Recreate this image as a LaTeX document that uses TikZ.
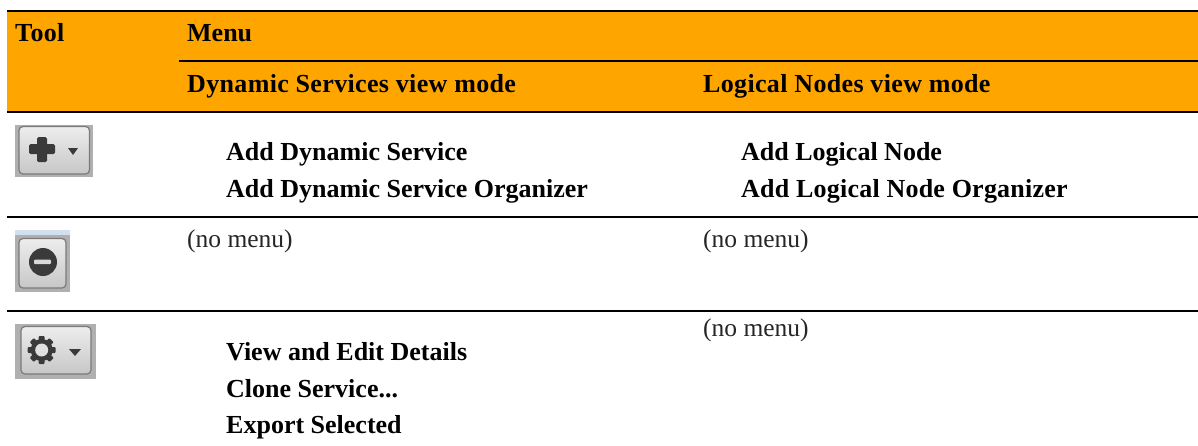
\documentclass[tikz,border=0pt]{standalone}
\usepackage{fontspec}
\setmainfont{Liberation Serif}
\definecolor{hdr}{HTML}{FFA500}
\definecolor{btnedge}{HTML}{7A7A7A}
\definecolor{btnout}{HTML}{B0B0B0}
\definecolor{glyph}{HTML}{3A3A3A}
\definecolor{tint}{HTML}{D2DFEF}
\tikzset{
 rulel/.style={line width=2pt,black},
 mi/.style={anchor=base west,inner sep=0pt,font=\fontsize{26}{30}\selectfont\bfseries},
 hd/.style={mi,font=\fontsize{26}{30}\selectfont\bfseries\addfontfeature{LetterSpace=1.3}},
 mis/.style={mi,font=\fontsize{26}{30}\selectfont\bfseries\addfontfeature{LetterSpace=0.9}},
 pl/.style={anchor=base west,inner sep=0pt,font=\fontsize{25.5}{30}\selectfont,text=black!85},
 btnbg/.style={fill=btnout,draw=none},
 btn/.style={rounded corners=4pt,draw=btnedge,line width=1.2pt,top color=white!93!black,bottom color=white!78!black},
 gl/.style={fill=glyph,draw=none}
}
\begin{document}
\begin{tikzpicture}[x=1pt,y=-1pt]
\useasboundingbox (0,0) rectangle (1198,445);
\fill[hdr] (7,10) rectangle (1198,112);
\draw[rulel] (7,10.7) -- (1198,10.7);
\draw[rulel] (179,61.3) -- (1198,61.3);
\draw[rulel] (7,111.7) -- (1198,111.7);
\draw[rulel] (7,217) -- (1198,217);
\draw[rulel] (7,311) -- (1198,311);
\node[hd] (tool) at (15,41) {Tool};
\node[mi] (menu) at (187,41) {Menu};
\node[hd] (dsv) at (187,92) {Dynamic Services view mode};
\node[hd] (lnv) at (703,92) {Logical Nodes view mode};
\node[mi] (a1) at (226,160.5) {Add Dynamic Service};
\node[mi] (a2) at (226,197) {Add Dynamic Service Organizer};
\node[mi] (b1) at (741,160.5) {Add Logical Node};
\node[mis] (b2) at (741,197) {Add Logical Node Organizer};
\node[pl] (n1) at (187,247) {(no menu)};
\node[pl] (n2) at (703,247) {(no menu)};
\node[pl] (n3) at (703,336.5) {(no menu)};
\node[mi] (c1) at (226,360) {View and Edit Details};
\node[mi] (c2) at (226,397) {Clone Service...};
\node[mi] (c3) at (226,433) {Export Selected};
% plus button
\fill[btnbg] (15,125) rectangle (93,177);
\draw[btn] (19,126.5) rectangle (89.5,174);
\fill[gl,rounded corners=1.5pt] (37,137) rectangle (47,162);
\fill[gl,rounded corners=1.5pt] (29,144) rectangle (55,154);
\fill[gl] (68,148) -- (78,148) -- (73,155) -- cycle;
% minus button
\fill[btnbg] (15,230) rectangle (70,292);
\fill[tint] (15,230) rectangle (70,235);
\draw[btn] (19,238.5) rectangle (66,288);
\fill[gl] (43,262) circle (14);
\fill[white!85!black,rounded corners=1pt] (34,259.5) rectangle (51,264);
% gear button
\fill[btnbg] (15,324) rectangle (96,379);
\draw[btn] (21,326.5) rectangle (91,374);
\fill[gl] (41.7,350) circle (11);
\foreach \a in {0,45,...,315}{\fill[gl,rotate around={\a:(41.7,350)},rounded corners=1pt] (38.7,336) rectangle (44.7,342);}
\fill[white!88!black] (41.7,350) circle (6.5);
\fill[gl] (69,349) -- (81,349) -- (75,356) -- cycle;
\end{tikzpicture}
\end{document}
